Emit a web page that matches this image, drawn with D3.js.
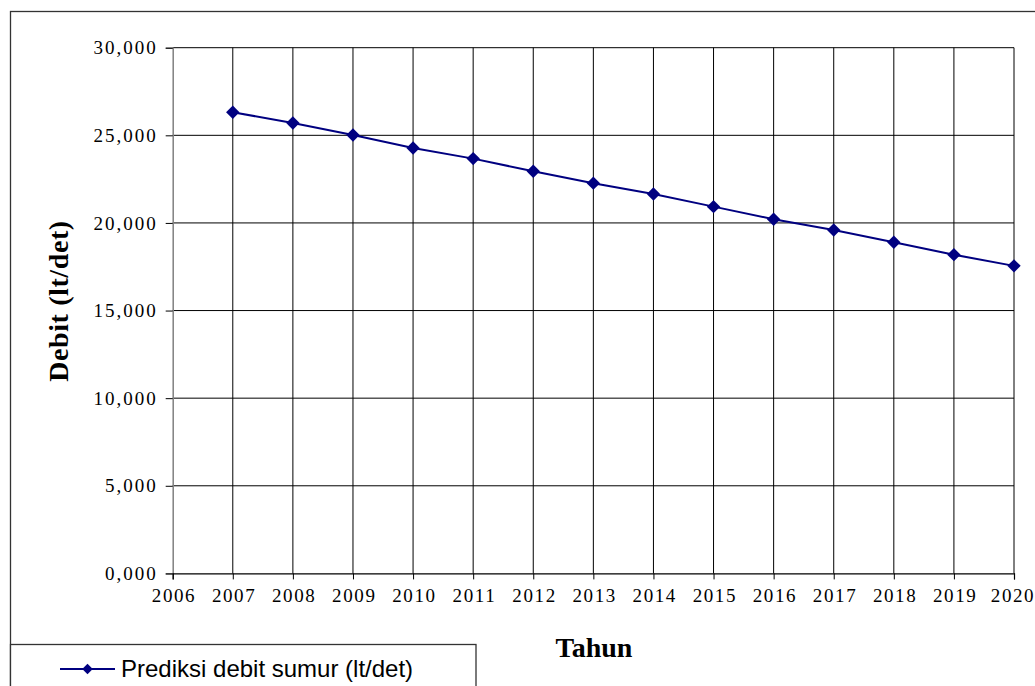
<!DOCTYPE html>
<html>
<head>
<meta charset="utf-8">
<script src="https://cdn.jsdelivr.net/npm/d3@7/dist/d3.min.js"></script>
<style>
  html, body { margin: 0; padding: 0; background: #fff; }
  svg { display: block; }
</style>
</head>
<body>
<svg id="chart" width="1035" height="686"></svg>
<script>
// ---- data ----
const years = [2007, 2008, 2009, 2010, 2011, 2012, 2013, 2014, 2015, 2016, 2017, 2018, 2019, 2020];
const debit = [26.32, 25.70, 25.02, 24.28, 23.67, 22.95, 22.27, 21.65, 20.93, 20.21, 19.60, 18.90, 18.19, 17.55];
const xTicks = [2006, 2007, 2008, 2009, 2010, 2011, 2012, 2013, 2014, 2015, 2016, 2017, 2018, 2019, 2020];
const yTicks = [0, 5, 10, 15, 20, 25, 30];
const seriesName = "Prediksi debit sumur (lt/det)";
const xTitle = "Tahun";
const yTitle = "Debit (lt/det)";

// ---- setup ----
const svg = d3.select("#chart");
const W = 1035, H = 686;
const plot = { left: 172.7, right: 1014, top: 47.7, bottom: 573.4 };
const navy = "#000080";
const serif = "'Liberation Serif', 'Times New Roman', serif";
const locale = d3.formatLocale({ decimal: ",", thousands: ".", grouping: [3], currency: ["", ""] });
const fmt = locale.format(".3f");

svg.append("rect").attr("width", W).attr("height", H).attr("fill", "#fff");

// outer chart border
svg.append("rect")
  .attr("x", 10.5).attr("y", 11.5).attr("width", 1100).attr("height", 800)
  .attr("fill", "none").attr("stroke", "#333").attr("stroke-width", 1.3);

const x = d3.scaleLinear().domain([2006, 2020]).range([plot.left, plot.right]);
const y = d3.scaleLinear().domain([0, 30]).range([plot.bottom, plot.top]);

// gridlines
svg.append("g").selectAll("line").data(yTicks.filter(d => d > 0)).join("line")
  .attr("x1", plot.left).attr("x2", plot.right)
  .attr("y1", d => y(d)).attr("y2", d => y(d))
  .attr("stroke", "#000").attr("stroke-width", 1);
svg.append("g").selectAll("line").data(xTicks.filter(d => d > 2006)).join("line")
  .attr("x1", d => x(d)).attr("x2", d => x(d))
  .attr("y1", plot.top).attr("y2", plot.bottom)
  .attr("stroke", "#000").attr("stroke-width", 1);

// y axis
const yAxis = svg.append("g")
  .attr("transform", `translate(${plot.left},0)`)
  .call(d3.axisLeft(y).tickValues(yTicks).tickFormat(fmt).tickSize(7).tickPadding(10));
yAxis.select(".domain").attr("stroke", "#808080").attr("stroke-width", 1.5);
yAxis.selectAll(".tick line").attr("stroke", "#000");
yAxis.selectAll("text")
  .attr("font-family", serif)
  .attr("font-size", 19).attr("letter-spacing", 2).attr("fill", "#000")
  .attr("dx", 2);

// x axis
const xAxis = svg.append("g")
  .attr("transform", `translate(0,${plot.bottom})`)
  .call(d3.axisBottom(x).tickValues(xTicks).tickFormat(d3.format("d")).tickSize(6).tickPadding(9));
xAxis.select(".domain").attr("stroke", "#000").attr("stroke-width", 1.2);
xAxis.selectAll(".tick line").attr("stroke", "#000");
xAxis.selectAll("text")
  .attr("font-family", serif)
  .attr("font-size", 19).attr("letter-spacing", 1.6).attr("fill", "#000")
  .attr("dx", (d, i) => i === xTicks.length - 1 ? -1.5 : 0.8);

// line
const line = d3.line().x((d, i) => x(years[i])).y(d => y(d));
svg.append("path").datum(debit)
  .attr("d", line).attr("fill", "none").attr("stroke", navy).attr("stroke-width", 2);

const diamond = d3.symbol().type(d3.symbolDiamond2).size(115);
svg.append("g").selectAll("path").data(debit).join("path")
  .attr("transform", (d, i) => `translate(${x(years[i])},${y(d)})`)
  .attr("d", diamond).attr("fill", navy);

// axis titles
svg.append("text")
  .attr("x", 594).attr("y", 657)
  .attr("text-anchor", "middle")
  .attr("font-family", serif)
  .attr("font-weight", "bold").attr("font-size", 28).attr("fill", "#000")
  .text(xTitle);
svg.append("text")
  .attr("transform", "translate(68,301) rotate(-90)")
  .attr("text-anchor", "middle")
  .attr("font-family", serif)
  .attr("font-weight", "bold").attr("font-size", 28).attr("letter-spacing", 0.6).attr("fill", "#000")
  .text(yTitle);

// legend
const lg = svg.append("g");
lg.append("rect")
  .attr("x", 10.5).attr("y", 644.5).attr("width", 465.5).attr("height", 100)
  .attr("fill", "#fff").attr("stroke", "#333").attr("stroke-width", 1.3);
lg.append("line")
  .attr("x1", 60).attr("x2", 115).attr("y1", 669).attr("y2", 669)
  .attr("stroke", navy).attr("stroke-width", 2);
lg.append("path")
  .attr("transform", "translate(87.5,669)")
  .attr("d", d3.symbol().type(d3.symbolDiamond2).size(70)).attr("fill", navy);
lg.append("text")
  .attr("x", 121).attr("y", 677)
  .attr("font-family", "'Liberation Sans', Arial, sans-serif")
  .attr("font-size", 24).attr("fill", "#000")
  .text(seriesName);
</script>
</body>
</html>
